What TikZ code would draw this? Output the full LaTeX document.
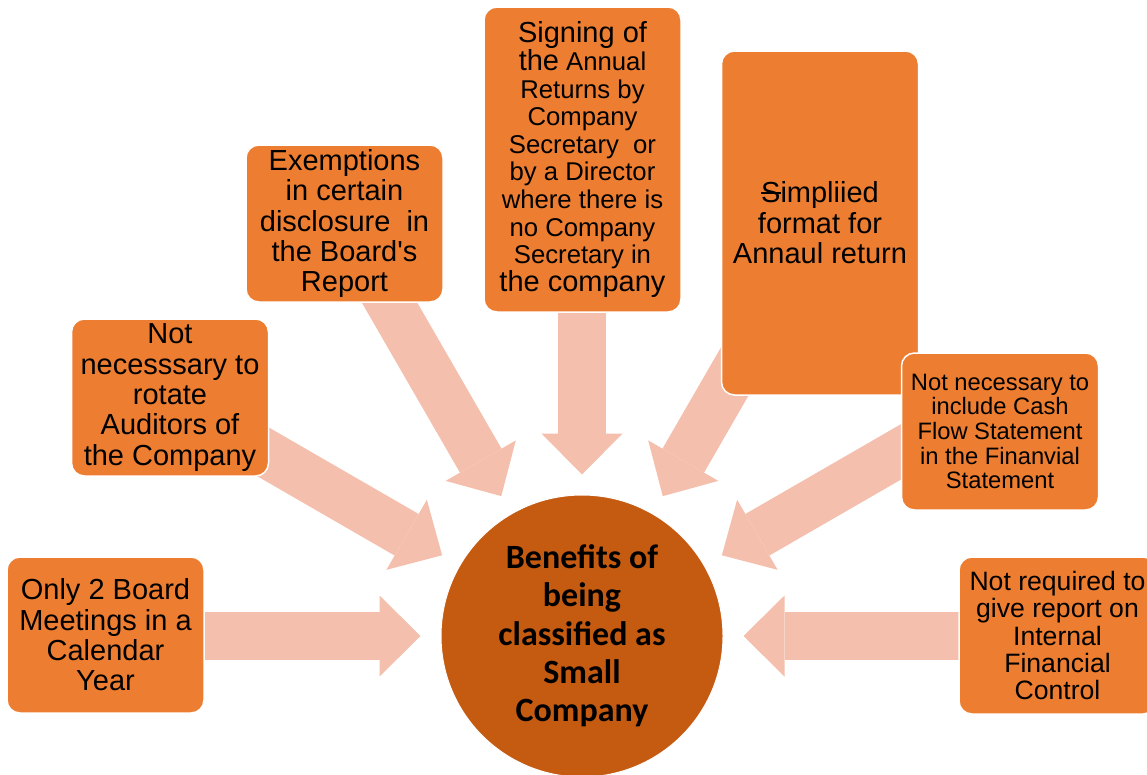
\documentclass[tikz,border=0pt]{standalone}
\usepackage{fontspec}
\newfontfamily\boxfont{Liberation Sans}
\newfontfamily\hubfont{Carlito}
\usetikzlibrary{arrows.meta}

\definecolor{boxorange}{HTML}{ED7D31}
\definecolor{huborange}{HTML}{C55A11}
\definecolor{arrowpeach}{HTML}{F4BFAC}

% font size / baseline skip shortcut
\newcommand{\fsz}[2]{\fontsize{#1pt}{#2pt}\selectfont}
% a struck-through capital S
\newcommand{\struckS}{\makebox[0pt][l]{\rule[0.29em]{0.68em}{0.07em}}S}

\tikzset{
  benefit/.style={draw=white, line width=1.5pt, fill=boxorange, rounded corners=13pt,
    minimum width=197pt, align=center, inner sep=0pt, text=black},
  hubstyle/.style={circle, draw=white, line width=1pt, fill=huborange, minimum size=282pt,
    align=center, inner sep=0pt, text=black, font=\hubfont\bfseries\fsz{34}{38.3}},
  feed/.style={draw=arrowpeach, line width=48pt,
    -{Triangle[width=81pt,length=41pt,line width=0pt]}, shorten >=20pt},
}

\begin{document}
\begin{tikzpicture}[x=1pt,y=-1pt]
  \useasboundingbox (0,0) rectangle (1147,774);
  \clip (0,0) rectangle (1147,774);

  % centre
  \node[hubstyle] (hub) at (582,636) {Benefits of\\being\\classified as\\Small\\Company};

  % tails of the block arrows, hidden beneath the boxes
  \coordinate (tBoard)   at ([shift={(180:400pt)}]hub.center);
  \coordinate (tAudit)   at ([shift={(150:400pt)}]hub.center);
  \coordinate (tExempt)  at ([shift={(120:420pt)}]hub.center);
  \coordinate (tSign)    at ([shift={(90:340pt)}]hub.center);
  \coordinate (tFormat)  at ([shift={(60:420pt)}]hub.center);
  \coordinate (tCash)    at ([shift={(30:400pt)}]hub.center);
  \coordinate (tControl) at ([shift={(0:400pt)}]hub.center);

  \foreach \t in {tBoard,tAudit,tExempt,tSign,tFormat,tCash,tControl}
    \draw[feed] (\t) -- (hub);

  % benefit boxes
  \node[benefit, minimum height=156pt, font=\boxfont\fsz{29}{30.4}] (board) at (105.5,635)
    {Only 2 Board\\Meetings in a\\Calendar\\Year};
  \node[benefit, minimum height=157pt, font=\boxfont\fsz{29}{30.4}] (audit) at (170,397.5)
    {Not\\necesssary to\\rotate\\Auditors of\\the Company};
  \node[benefit, minimum height=157pt, font=\boxfont\fsz{29}{30.3}] (exempt) at (344.5,223.5)
    {Exemptions\\in certain\\disclosure\ \ in\\the Board's\\Report};
  \node[benefit, minimum height=305pt, font=\boxfont\fsz{25.7}{27.6}] (sign) at (582.5,159.5)
    {{\fsz{29}{27.6}Signing of}\\{\fsz{29}{27.6}the} Annual\\Returns by\\Company\\Secretary\ \ or\\by a Director\\where there is\\no Company\\Secretary in\\{\fsz{29}{27.6}the company}};
  \node[benefit, minimum height=344pt, font=\boxfont\fsz{29}{30.5}] (format) at (820,223)
    {\struckS impliied\\format for\\Annaul return};
  \node[benefit, minimum height=157pt, font=\boxfont\fsz{23.75}{24.7}] (cash) at (1000,431.5)
    {Not necessary to\\include Cash\\Flow Statement\\in the Finanvial\\Statement};
  \node[benefit, minimum height=157pt, font=\boxfont\fsz{26.6}{27.3}] (control) at (1057.5,635.5)
    {Not required to\\give report on\\Internal\\Financial\\Control};
\end{tikzpicture}
\end{document}
